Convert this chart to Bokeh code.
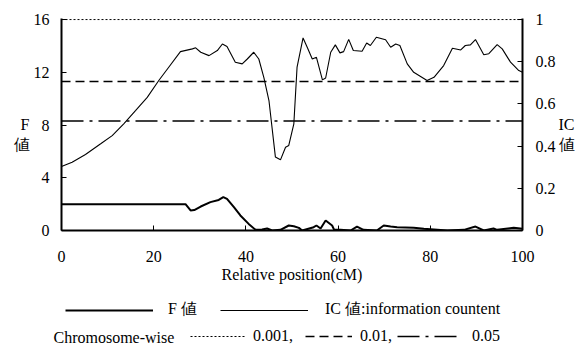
from bokeh.plotting import figure
from bokeh.models import (Range1d, LinearAxis, FixedTicker, Legend, LegendItem, Label)
from bokeh.embed import file_html
from bokeh.resources import INLINE

# ---- data ----
ic_pos = [0.0, 2.3, 5.2, 8.5, 11.0, 13.5, 16.1, 18.6, 21.1, 23.3, 25.8, 28.4, 29.1, 30.2,
          32.0, 33.8, 34.9, 35.9, 37.7, 39.2, 40.3, 41.7, 42.8, 43.9, 45.0, 46.4, 47.5,
          48.6, 49.3, 50.4, 51.1, 52.4, 53.3, 54.4, 55.3, 56.6, 57.3, 58.4, 59.4, 60.4,
          61.2, 62.3, 63.3, 65.2, 66.2, 67.0, 68.3, 70.3, 71.4, 72.5, 73.4, 75.0, 76.4,
          79.3, 80.8, 82.9, 84.8, 86.6, 87.6, 88.7, 89.8, 91.6, 92.7, 94.5, 95.6, 97.4,
          99.2, 100.0]
ic_val = [0.303, 0.324, 0.360, 0.411, 0.450, 0.506, 0.569, 0.631, 0.711, 0.775, 0.848,
          0.861, 0.866, 0.845, 0.829, 0.853, 0.884, 0.872, 0.798, 0.790, 0.813, 0.845,
          0.813, 0.725, 0.616, 0.348, 0.335, 0.395, 0.403, 0.506, 0.775, 0.913, 0.869,
          0.813, 0.821, 0.714, 0.723, 0.845, 0.880, 0.842, 0.848, 0.906, 0.853, 0.850,
          0.889, 0.877, 0.916, 0.904, 0.869, 0.884, 0.877, 0.790, 0.750, 0.711, 0.726,
          0.782, 0.864, 0.856, 0.877, 0.880, 0.905, 0.833, 0.838, 0.881, 0.861, 0.798,
          0.758, 0.750]

f_pos = [0.0, 26.9, 28.0, 28.8, 30.2, 32.3, 34.1, 35.1, 35.9, 37.4, 38.8, 40.6, 42.1,
         43.5, 44.6, 45.7, 47.5, 49.3, 50.4, 51.5, 52.2, 54.7, 55.3, 56.2, 57.3, 58.7,
         59.1, 60.5, 62.7, 64.1, 65.5, 68.4, 69.9, 71.4, 72.8, 76.4, 78.6, 83.7, 87.3,
         89.8, 91.6, 93.7, 94.5, 98.1, 100.0]
f_val = [2.0, 2.0, 1.52, 1.55, 1.82, 2.15, 2.32, 2.53, 2.4, 1.77, 1.14, 0.5, 0.05,
         0.08, 0.15, 0.0, 0.05, 0.38, 0.32, 0.2, 0.0, 0.25, 0.38, 0.15, 0.76, 0.38,
         0.08, 0.05, 0.0, 0.3, 0.05, 0.0, 0.38, 0.3, 0.25, 0.2, 0.13, 0.0, 0.05,
         0.3, 0.0, 0.15, 0.05, 0.2, 0.13]

thr_x = [0, 100]
thr_001 = 16.0
thr_01 = 11.3
thr_05 = 8.3

x_ticks = [0, 20, 40, 60, 80, 100]
f_ticks = [0, 4, 8, 12, 16]
ic_ticks = [0, 0.2, 0.4, 0.6, 0.8, 1.0]

FONT = "Liberation Serif"
FS = "16px"

F_TOP = 16.08
p = figure(width=582, height=290, output_backend="svg", toolbar_location=None,
           x_range=Range1d(0, 100), y_range=Range1d(0, F_TOP),
           min_border_left=61, min_border_right=60, min_border_top=18, min_border_bottom=60)
p.extra_y_ranges = {"ic": Range1d(0, F_TOP / 16.0)}
p.outline_line_color = None
p.grid.visible = False
p.background_fill_color = "white"

def style_axis(ax):
    ax.axis_line_width = 2
    ax.axis_line_color = "black"
    ax.major_tick_in = 5
    ax.major_tick_out = 0
    ax.major_tick_line_width = 1
    ax.minor_tick_line_color = None
    ax.major_label_text_font = FONT
    ax.major_label_text_font_size = FS
    ax.major_label_text_color = "black"
    ax.axis_label_text_font = FONT
    ax.axis_label_text_font_size = FS
    ax.axis_label_text_font_style = "normal"
    ax.axis_label_text_color = "black"

xa = p.xaxis[0]
xa.ticker = FixedTicker(ticks=x_ticks)
xa.axis_label = "Relative position(cM)"
xa.major_label_standoff = 20
xa.axis_label_standoff = 1
style_axis(xa)

ya = p.yaxis[0]
ya.ticker = FixedTicker(ticks=f_ticks)
ya.axis_label = "\nF\n値"
ya.axis_label_orientation = "horizontal"
ya.major_label_standoff = 12
ya.axis_label_standoff = 1
ya.axis_label_text_line_height = 1.15
style_axis(ya)

ra = LinearAxis(y_range_name="ic", ticker=FixedTicker(ticks=ic_ticks),
                axis_label="\nIC\n値", axis_label_orientation="horizontal")
ra.major_label_overrides = {0: "0", 1: "1"}
ra.major_label_standoff = 13
ra.axis_label_standoff = 0
ra.axis_label_text_line_height = 1.15
style_axis(ra)
p.add_layout(ra, "right")

DOT = "2 2"
DASH = "9 5"
DASHDOT = "22 6 3 6"

# threshold lines
p.line(thr_x, [thr_001, thr_001], line_color="black", line_width=1, line_dash=DOT)
p.line(thr_x, [thr_01, thr_01], line_color="black", line_width=1.5, line_dash=DASH)
p.line(thr_x, [thr_05, thr_05], line_color="black", line_width=1.5, line_dash=DASHDOT)

# curves
p.line(ic_pos, ic_val, y_range_name="ic", line_color="black", line_width=1.1)
p.line(f_pos, f_val, line_color="black", line_width=2)

# ---- legend strip (separate root, its own frame fills the canvas) ----
q = figure(width=582, height=55, output_backend="svg", toolbar_location=None,
           x_range=Range1d(0, 1), y_range=Range1d(0, 1), min_border=0)
q.axis.visible = False
q.grid.visible = False
q.outline_line_color = None

# legend proxies: same series, lying outside this strip's ranges
lf = q.line(f_pos, f_val, line_color="black", line_width=2)
lic = q.line(ic_pos, [v * 16 for v in ic_val], line_color="black", line_width=1.1)
l001 = q.line(thr_x, [thr_001, thr_001], line_color="black", line_width=1, line_dash=DOT)
l01 = q.line(thr_x, [thr_01, thr_01], line_color="black", line_width=1.5, line_dash=DASH)
l05 = q.line(thr_x, [thr_05, thr_05], line_color="black", line_width=1.5, line_dash=DASHDOT)

def make_legend(label, rend, x, y, gw, standoff):
    lg = Legend(items=[LegendItem(label=label, renderers=[rend])], location=(x, y),
                orientation="horizontal", glyph_width=gw, glyph_height=16,
                label_standoff=standoff, padding=0, margin=0, spacing=0,
                border_line_color=None, background_fill_alpha=0,
                label_text_font=FONT, label_text_font_size=FS, label_height=16,
                label_text_color="black")
    q.add_layout(lg)
    return lg

make_legend("F 値", lf, 65, 25, 88, 15)
make_legend("IC 値:information countent", lic, 220, 25, 88, 17)
make_legend("0.001,", l001, 190, 0, 55, 8)
make_legend("0.01,", l01, 305, 0, 47, 8)
make_legend("0.05", l05, 397, 0, 63, 12)

q.add_layout(Label(x=53, y=8, x_units="screen", y_units="screen", text="Chromosome-wise",
                   text_font=FONT, text_font_size=FS, text_baseline="middle",
                   text_color="black"))

open("out.html", "w").write(file_html([p, q], INLINE))
